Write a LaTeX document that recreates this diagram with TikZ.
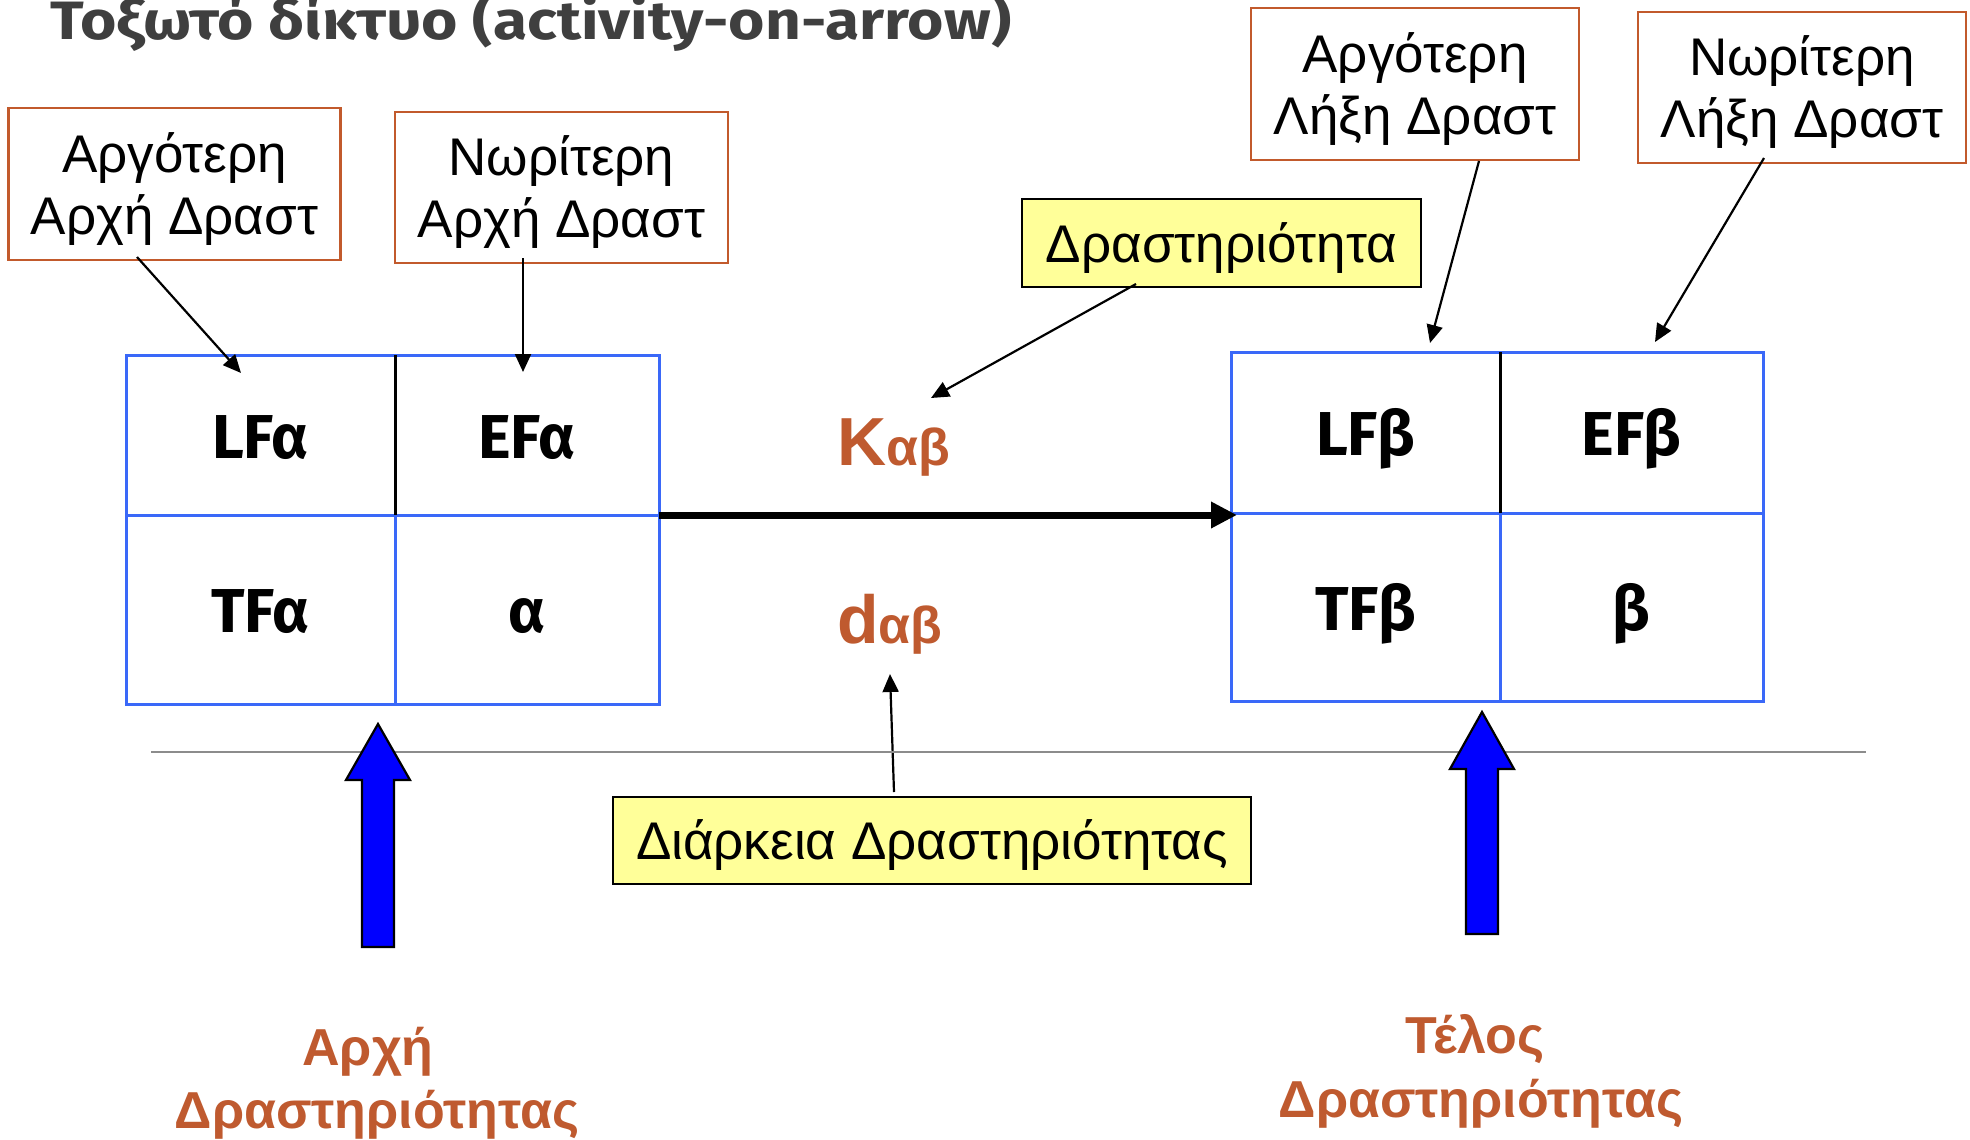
\documentclass[tikz,border=0pt]{standalone}
\usepackage{fontspec}
\setmainfont{Liberation Sans}
\newfontfamily\cellfamily{Fira Sans}
\usetikzlibrary{arrows.meta,calc}

\definecolor{boxrim}{HTML}{C25A2C}
\definecolor{accent}{HTML}{BF5A2F}
\definecolor{gridblue}{HTML}{3A68F8}
\definecolor{notefill}{HTML}{FFFF99}
\definecolor{headgray}{HTML}{3F3F3F}
\definecolor{rulegray}{HTML}{8C8C8C}

\begin{document}
\begin{tikzpicture}[x=1pt,y=-1pt,
  callout/.style={draw=boxrim, line width=2.2pt, fill=white, inner sep=0pt, outer sep=0pt,
    align=center, font=\fontsize{53}{62}\selectfont, text height=108pt, text depth=8pt},
  note/.style={draw=black, line width=2.2pt, fill=notefill, inner sep=0pt, outer sep=0pt,
    font=\fontsize{53}{62}\selectfont, text height=38pt, text depth=0pt},
  cell/.style={draw=gridblue, line width=3pt, inner sep=0pt, outer sep=0pt,
    font=\cellfamily\bfseries\fontsize{62}{62}\selectfont, text height=46pt, text depth=0pt},
  pointer/.style={line width=2.2pt, -{Triangle[length=18pt,width=16pt]}},
  flow/.style={line width=7pt, -{Triangle[length=26pt,width=25pt]}},
  endtext/.style={text=accent, font=\bfseries\fontsize{52}{52}\selectfont, inner sep=0pt, anchor=base},
  marker/.style={fill=blue, draw=black, line width=2.2pt, line join=miter},
]
% page
\fill[white] (0,0) rectangle (1970,1140);
\useasboundingbox (0,0) rectangle (1970,1140);

% heading
\node[anchor=base west, inner sep=0pt, text=headgray] (title) at (50,40)
  {\resizebox{961pt}{\height}{\cellfamily\bfseries\fontsize{54}{54}\selectfont Τοξωτό δίκτυο (activity-on-arrow)}};

% start event table
\node[cell, minimum width=269pt, minimum height=160pt] (lfa) at (260.5,435) {LFα};
\node[cell, minimum width=264pt, minimum height=160pt] (efa) at (527,435) {EFα};
\node[cell, minimum width=269pt, minimum height=189pt] (tfa) at (260.5,609.5) {TFα};
\node[cell, minimum width=264pt, minimum height=189pt] (alpha) at (527,609.5) {α};
\draw[line width=3pt] (lfa.north east) -- (lfa.south east);

% end event table
\node[cell, minimum width=269pt, minimum height=161pt] (lfb) at (1365.5,432.5) {LFβ};
\node[cell, minimum width=263pt, minimum height=161pt] (efb) at (1631.5,432.5) {EFβ};
\node[cell, minimum width=269pt, minimum height=188pt] (tfb) at (1365.5,607) {TFβ};
\node[cell, minimum width=263pt, minimum height=188pt] (beta) at (1631.5,607) {β};
\draw[line width=3pt] (lfb.north east) -- (lfb.south east);

% activity arrow
\draw[flow, shorten >=-6pt] (efa.south east) -- (efa.south east -| lfb.west);

% activity name and duration
\node[endtext, anchor=base west] (k) at (837,465) {{\fontsize{68}{68}\selectfont K}αβ};
\node[endtext, anchor=base west] (d) at (837,643) {{\fontsize{68}{68}\selectfont d}αβ};
\coordinate (ktip) at (931,398);
\coordinate (dtip) at (890,674);

% explanation boxes
\node[callout, minimum width=332pt, minimum height=152pt] (a1) at (174.5,184) {Αργότερη\\Αρχή Δραστ};
\node[callout, minimum width=333pt, minimum height=151pt] (a2) at (561.5,187.5) {Νωρίτερη\\Αρχή Δραστ};
\node[callout, minimum width=328pt, minimum height=152pt] (b1) at (1415,84) {Αργότερη\\Λήξη Δραστ};
\node[callout, minimum width=328pt, minimum height=151pt] (b2) at (1802,87.5) {Νωρίτερη\\Λήξη Δραστ};
\node[note, minimum width=399pt, minimum height=88pt] (y1) at (1221.5,243) {Δραστηριότητα};
\node[note, minimum width=638pt, minimum height=87pt] (y2) at (932,840.5) {Διάρκεια Δραστηριότητας};

\draw[pointer] ($(a1.south)+(-37.5,-3)$) -- ($(lfa.north)+(-19.5,18)$);
\draw[pointer] ($(a2.south)+(-38.5,-5)$) -- ($(efa.north)+(-4,17)$);
\draw[pointer] ($(b1.south)+(64,1)$) -- ($(lfb.north)+(64.5,-9)$);
\draw[pointer] ($(b2.south)+(-38,-5)$) -- ($(efb.north)+(23.5,-10)$);
\draw[pointer] ($(y1.south)+(-85.5,-3)$) -- (ktip);
\draw[pointer] ($(y2.north)+(-38,-5)$) -- (dtip);

% separator
\draw[rulegray, line width=1.6pt] (151,752) -- (1866,752);

% event markers
\draw[marker] (378,724) -- (410,780) -- (394,780) -- (394,947) -- (362,947) -- (362,780) -- (346,780) -- cycle;
\draw[marker] (1482,712) -- (1514,769) -- (1498,769) -- (1498,934) -- (1466,934) -- (1466,769) -- (1450,769) -- cycle;

\node[endtext] (st1) at (368,1065) {Αρχή};
\node[endtext] (st2) at (377,1128) {Δραστηριότητας};
\node[endtext] (en1) at (1475,1053) {Τέλος};
\node[endtext] (en2) at (1481,1117) {Δραστηριότητας};
\end{tikzpicture}
\end{document}
